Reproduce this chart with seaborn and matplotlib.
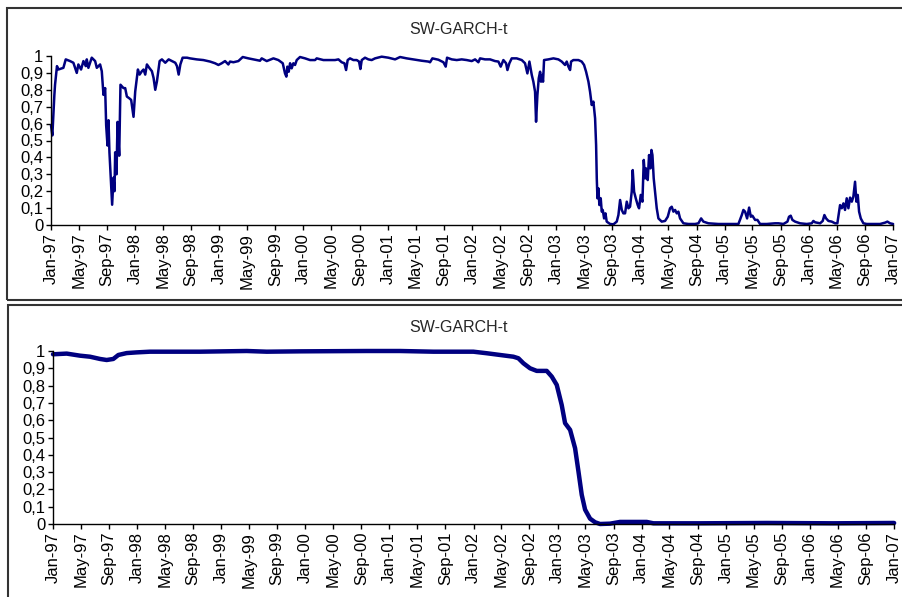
import numpy as np
import pandas as pd
import matplotlib
matplotlib.use("Agg")
import matplotlib.pyplot as plt
from matplotlib.patches import Rectangle
import seaborn as sns

# Gornny panel: prawdopodobienstwo rezimu, czas w latach dziesietnych
top_year = [
    1997.000, 1997.016, 1997.040, 1997.048, 1997.071, 1997.087, 1997.147, 1997.175, 1997.226, 1997.266,
    1997.306, 1997.325, 1997.357, 1997.385, 1997.413, 1997.425, 1997.444, 1997.484, 1997.524, 1997.544,
    1997.583, 1997.603, 1997.623, 1997.643, 1997.655, 1997.671, 1997.683, 1997.694, 1997.710, 1997.726,
    1997.742, 1997.754, 1997.762, 1997.778, 1997.790, 1997.810, 1997.825, 1997.861, 1997.881, 1997.901,
    1997.929, 1997.952, 1997.980, 1998.000, 1998.020, 1998.032, 1998.052, 1998.079, 1998.099, 1998.119,
    1998.139, 1998.167, 1998.198, 1998.218, 1998.238, 1998.258, 1998.290, 1998.317, 1998.357, 1998.397,
    1998.437, 1998.476, 1998.496, 1998.516, 1998.536, 1998.563, 1998.615,
    1998.651, 1998.730, 1998.809, 1998.889, 1998.948, 1998.988, 1999.027, 1999.067, 1999.106, 1999.126,
    1999.166, 1999.225, 1999.277, 1999.344, 1999.403, 1999.482, 1999.502, 1999.562, 1999.641, 1999.700,
    1999.752, 1999.779, 1999.795, 1999.807, 1999.823, 1999.839, 1999.858, 1999.878, 1999.898, 1999.918,
    1999.957, 2000.017, 2000.076, 2000.136, 2000.155, 2000.235, 2000.314,
    2000.373, 2000.413, 2000.452, 2000.484, 2000.504, 2000.523, 2000.551, 2000.591, 2000.630, 2000.658,
    2000.674, 2000.690, 2000.729, 2000.769, 2000.808, 2000.848, 2000.927, 2001.006, 2001.086, 2001.145,
    2001.224, 2001.323, 2001.402, 2001.482, 2001.501, 2001.529, 2001.600, 2001.660, 2001.687, 2001.703,
    2001.759, 2001.818, 2001.877, 2001.937, 2001.996, 2002.036, 2002.075,
    2002.095, 2002.154, 2002.214, 2002.273, 2002.313, 2002.340, 2002.372, 2002.404, 2002.420, 2002.443,
    2002.471, 2002.530, 2002.590, 2002.629, 2002.657, 2002.681, 2002.709, 2002.728, 2002.748, 2002.760,
    2002.776, 2002.792, 2002.808, 2002.819, 2002.831, 2002.843, 2002.855, 2002.907, 2002.966, 2003.025,
    2003.065, 2003.104, 2003.124, 2003.144, 2003.164, 2003.176, 2003.203, 2003.263, 2003.302, 2003.330,
    2003.354, 2003.382, 2003.401, 2003.421, 2003.441, 2003.461, 2003.473, 2003.481, 2003.489, 2003.500,
    2003.512, 2003.528, 2003.540, 2003.552, 2003.568, 2003.584, 2003.599, 2003.639, 2003.679, 2003.718,
    2003.738, 2003.758, 2003.778, 2003.797,
    2003.817, 2003.837, 2003.857, 2003.876, 2003.896, 2003.908, 2003.924, 2003.944, 2003.967, 2003.983,
    2004.003, 2004.023, 2004.039, 2004.055, 2004.066, 2004.086, 2004.102, 2004.118, 2004.130, 2004.142,
    2004.157, 2004.173, 2004.193, 2004.213, 2004.252, 2004.292, 2004.324, 2004.351, 2004.371, 2004.391,
    2004.411, 2004.431, 2004.450, 2004.470, 2004.510, 2004.569, 2004.648, 2004.688, 2004.720, 2004.747,
    2004.807, 2004.925, 2005.044, 2005.163, 2005.203, 2005.222, 2005.242, 2005.266, 2005.290, 2005.310,
    2005.329, 2005.361, 2005.389,
    2005.420, 2005.499, 2005.598, 2005.638, 2005.697, 2005.745, 2005.764, 2005.784, 2005.804, 2005.836,
    2005.895, 2005.974, 2006.034, 2006.053, 2006.073, 2006.133, 2006.164, 2006.184, 2006.204, 2006.232,
    2006.271, 2006.311, 2006.338, 2006.370, 2006.390, 2006.410, 2006.429, 2006.449, 2006.469, 2006.489,
    2006.509, 2006.528, 2006.548, 2006.564, 2006.580, 2006.596, 2006.616, 2006.647, 2006.687, 2006.766,
    2006.845, 2006.905, 2006.932, 2006.964, 2007.000,
]
top_prob = [
    0.59, 0.53, 0.77, 0.83, 0.94, 0.92, 0.93, 0.98, 0.97, 0.96,
    0.90, 0.95, 0.92, 0.97, 0.94, 0.98, 0.93, 0.99, 0.97, 0.93,
    0.95, 0.91, 0.77, 0.81, 0.59, 0.47, 0.62, 0.43, 0.28, 0.12,
    0.28, 0.20, 0.43, 0.30, 0.61, 0.41, 0.83, 0.81, 0.81, 0.76,
    0.75, 0.74, 0.64, 0.79, 0.87, 0.92, 0.89, 0.91, 0.92, 0.89,
    0.95, 0.93, 0.91, 0.87, 0.80, 0.85, 0.97, 0.98, 0.96, 0.98,
    0.97, 0.96, 0.94, 0.89, 0.95, 0.99, 0.99,
    0.986, 0.98, 0.976, 0.967, 0.957, 0.947, 0.957, 0.97, 0.95, 0.967,
    0.963, 0.97, 0.994, 0.986, 0.98, 0.972, 0.986, 0.97, 0.986, 0.976,
    0.957, 0.897, 0.878, 0.937, 0.907, 0.957, 0.927, 0.957, 0.947, 0.976,
    0.994, 0.986, 0.976, 0.976, 0.986, 0.976, 0.976,
    0.976, 0.98, 0.963, 0.957, 0.917, 0.976, 0.986, 0.976, 0.976, 0.967,
    0.923, 0.976, 0.99, 0.98, 0.976, 0.986, 0.996, 0.99, 0.98, 0.994,
    0.986, 0.978, 0.972, 0.967, 0.963, 0.986, 0.978, 0.963, 0.937, 0.99,
    0.98, 0.976, 0.98, 0.976, 0.97, 0.98, 0.963,
    0.986, 0.98, 0.98, 0.97, 0.967, 0.937, 0.976, 0.957, 0.917, 0.957,
    0.986, 0.986, 0.976, 0.957, 0.897, 0.967, 0.888, 0.848, 0.789, 0.611,
    0.769, 0.868, 0.907, 0.848, 0.888, 0.848, 0.976, 0.98, 0.986, 0.98,
    0.967, 0.947, 0.967, 0.937, 0.917, 0.967, 0.976, 0.976, 0.967, 0.947,
    0.907, 0.848, 0.789, 0.710, 0.730, 0.631, 0.473, 0.276, 0.158, 0.217,
    0.118, 0.158, 0.079, 0.089, 0.039, 0.069, 0.020, 0.006, 0.004, 0.020,
    0.059, 0.148, 0.089, 0.069,
    0.069, 0.138, 0.099, 0.108, 0.197, 0.325, 0.197, 0.158, 0.118, 0.099,
    0.178, 0.138, 0.385, 0.276, 0.335, 0.266, 0.414, 0.335, 0.444, 0.414,
    0.276, 0.197, 0.099, 0.039, 0.020, 0.024, 0.049, 0.099, 0.108, 0.079,
    0.089, 0.069, 0.079, 0.039, 0.010, 0.006, 0.006, 0.010, 0.039, 0.020,
    0.010, 0.006, 0.006, 0.006, 0.059, 0.089, 0.079, 0.039, 0.103, 0.049,
    0.055, 0.030, 0.030,
    0.006, 0.006, 0.010, 0.010, 0.006, 0.020, 0.049, 0.055, 0.030, 0.020,
    0.010, 0.006, 0.010, 0.024, 0.016, 0.010, 0.024, 0.059, 0.039, 0.024,
    0.020, 0.010, 0.010, 0.118, 0.099, 0.128, 0.089, 0.158, 0.099, 0.162,
    0.138, 0.168, 0.256, 0.138, 0.178, 0.079, 0.039, 0.010, 0.006, 0.006,
    0.006, 0.014, 0.020, 0.010, 0.006,
]

# Dolny panel: wygladzone prawdopodobienstwo
bottom_year = [
    1997.000, 1997.163, 1997.321, 1997.440, 1997.559, 1997.638, 1997.717, 1997.777, 1997.876, 1997.995,
    1998.153, 1998.748, 1999.303, 1999.541, 1999.937, 2000.730, 2001.126, 2001.523, 2001.998, 2002.157,
    2002.315, 2002.474, 2002.533, 2002.593, 2002.672, 2002.751, 2002.870, 2002.930, 2002.989, 2003.048,
    2003.088, 2003.148, 2003.207, 2003.247, 2003.286, 2003.326, 2003.385, 2003.445, 2003.504, 2003.623,
    2003.742, 2004.059, 2004.138, 2004.693, 2005.486, 2006.278, 2007.000,
]
bottom_prob = [
    0.981, 0.985, 0.973, 0.967, 0.954, 0.948, 0.954, 0.977, 0.988, 0.992,
    0.996, 0.996, 1.000, 0.996, 0.998, 1.000, 1.000, 0.996, 0.996, 0.987,
    0.977, 0.967, 0.958, 0.929, 0.900, 0.885, 0.885, 0.852, 0.804, 0.688,
    0.583, 0.544, 0.438, 0.304, 0.169, 0.083, 0.031, 0.010, 0.000, 0.002,
    0.012, 0.012, 0.004, 0.004, 0.006, 0.004, 0.006,
]

y_ticks = [0, 0.1, 0.2, 0.3, 0.4, 0.5, 0.6, 0.7, 0.8, 0.9, 1.0]
y_labels = ["0", "0,1", "0,2", "0,3", "0,4", "0,5", "0,6", "0,7", "0,8", "0,9", "1"]
title = "SW-GARCH-t"


def na_daty(lata):
    """Zamienia lata dziesietne na daty."""
    start = pd.Timestamp("1997-01-01")
    return start + pd.to_timedelta((np.array(lata) - 1997) * 365.25, unit="D")


def rysuj_panel(ax, lata, wartosci, grubosc):
    df = pd.DataFrame({"data": na_daty(lata), "p": wartosci})
    sns.lineplot(data=df, x="data", y="p", ax=ax, color="#000080", linewidth=grubosc)
    for linia in ax.lines:
        linia.set_clip_on(False)
    ax.set_xlim(pd.Timestamp("1997-01-01"), pd.Timestamp("2007-01-01"))
    ax.set_ylim(0, 1)
    ax.set_yticks(y_ticks)
    ax.set_yticklabels(y_labels)
    x_ticks = pd.date_range("1997-01-01", "2007-01-01", freq="4MS")
    ax.set_xticks(x_ticks)
    ax.set_xticklabels([d.strftime("%b-%y") for d in x_ticks], rotation=90)
    ax.set_xlabel("")
    ax.set_ylabel("")
    for s in ["top", "right"]:
        ax.spines[s].set_visible(False)
    for s in ["left", "bottom"]:
        ax.spines[s].set_color("black")
        ax.spines[s].set_linewidth(1.0)
    ax.tick_params(axis="both", direction="out", length=3.5, width=1.0, color="black",
                   labelsize=12, labelcolor="black", pad=2)
    ax.set_facecolor("white")


sns.set_style("ticks")
plt.rcParams["font.family"] = ["Liberation Sans", "DejaVu Sans"]

fig = plt.figure(figsize=(9.02, 5.97), dpi=100)
W, H = 902.0, 597.0

# ramki paneli jak w Excelu
fig.patches.append(Rectangle((7 / W, 1 - 300 / H), 900 / W, 292 / H, transform=fig.transFigure,
                             fill=False, edgecolor="#333333", linewidth=1.5, clip_on=False))
fig.patches.append(Rectangle((8 / W, -0.05), 900 / W, 0.05 + (597 - 305) / H, transform=fig.transFigure,
                             fill=False, edgecolor="#333333", linewidth=1.5, clip_on=False))

ax1 = fig.add_axes([51 / W, 1 - 225 / H, 842 / W, 169 / H])
rysuj_panel(ax1, top_year, top_prob, 1.8)
ax2 = fig.add_axes([53 / W, 1 - 524 / H, 841 / W, 173 / H])
rysuj_panel(ax2, bottom_year, bottom_prob, 3.2)

fig.text(459 / W, 1 - 30 / H, title, ha="center", va="center", fontsize=11.5)
fig.text(459 / W, 1 - 327 / H, title, ha="center", va="center", fontsize=11.5)

fig.savefig("out.png", dpi=100, facecolor="white")
